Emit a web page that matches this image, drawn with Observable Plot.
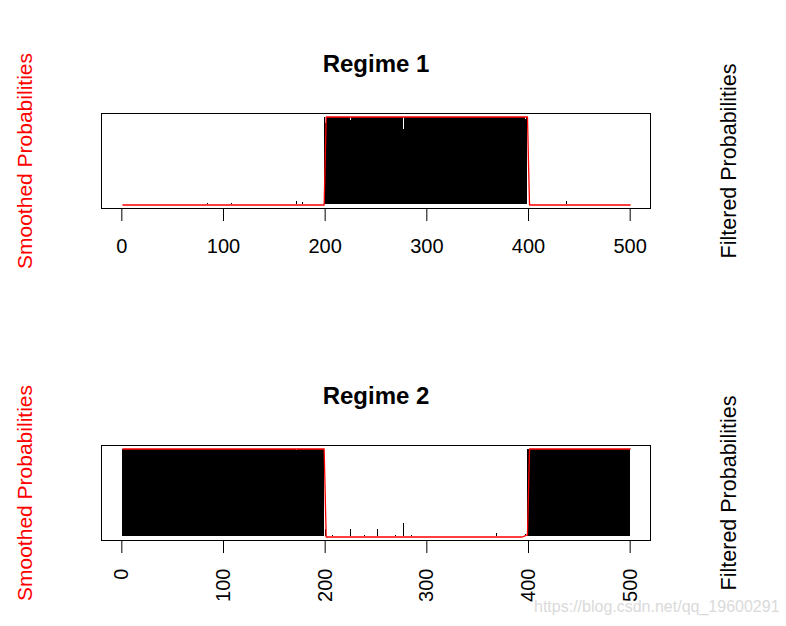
<!DOCTYPE html>
<html>
<head>
<meta charset="utf-8">
<script src="https://cdn.jsdelivr.net/npm/d3@7"></script>
<script src="https://cdn.jsdelivr.net/npm/@observablehq/plot@0.6"></script>
<style>
  html, body { margin: 0; padding: 0; background: #fff; }
  #wrap { position: relative; width: 786px; height: 626px; overflow: hidden; background: #fff; font-family: "Liberation Sans", Arial, sans-serif; }
  .panel { position: absolute; left: 0; }
  #wm { position: absolute; left: 534px; top: 598px; font-size: 16px; color: #dadada; white-space: nowrap; }
</style>
</head>
<body>
<div id="wrap">
  <div id="p1" class="panel" style="top:0px"></div>
  <div id="p2" class="panel" style="top:313px"></div>
  <div id="wm">https://blog.csdn.net/qq_19600291</div>
</div>
<script>
// ---- data ----
const nObs = 500;
const xTicks = [0, 100, 200, 300, 400, 500];
const titles = ["Regime 1", "Regime 2"];
const smoothedLabel = "Smoothed Probabilities";
const filteredLabel = "Filtered Probabilities";

// periods (inclusive) where each regime's filtered probability is ~1
const regime1Periods = [[200, 399]];
const regime2Periods = [[1, 199], [400, 500]];

// observations where the filtered probability deviates from 0 / 1
const filtered1Deviations = [[85, 0.02], [108, 0.02], [172, 0.04], [178, 0.025], [201, 0.93], [225, 0.96], [278, 0.86], [398, 0.97], [438, 0.04]];
const filtered2Deviations = [[172, 0.98], [201, 0.085], [208, 0.015], [225, 0.08], [239, 0.02], [252, 0.08], [270, 0.015], [278, 0.15], [285, 0.015], [332, 0.01], [357, 0.01], [369, 0.04], [395, 0.01], [398, 0.03]];

// smoothed probabilities (break points of the step-like path)
const smoothed1Points = [[1, 0], [199, 0], [200, 0.5], [201, 1], [399, 1], [400, 0.48], [401, 0], [500, 0]];
const smoothed2Points = [[1, 1], [199, 1], [200, 0.5], [201, 0], [394, 0], [396, 0.01], [398, 0.02], [399, 0.02], [400, 0.52], [401, 1], [500, 1]];

// ---- build tables ----
// one value per observation, then merged into runs of equal value (drawn as type="h" bars)
function filteredRuns(periods, deviations) {
  const dev = new Map(deviations);
  const runs = [];
  for (let t = 1; t <= nObs; ++t) {
    const active = periods.some(([a, b]) => t >= a && t <= b);
    const p = dev.has(t) ? dev.get(t) : (active ? 1 : 0);
    const last = runs[runs.length - 1];
    if (last && last.p === p && last.end === t - 1) last.end = t;
    else runs.push({start: t, end: t, p});
  }
  return runs.filter(r => r.p > 0);
}
const pts = arr => arr.map(([t, p]) => ({t, p}));

const font = "'Liberation Sans', Arial, sans-serif";

function panel({title, filtered, smoothed, marginTop, marginBottom, rotated}) {
  const axis = rotated
    ? Plot.axisX({ticks: xTicks, tickSize: 13, tickPadding: 15, tickRotate: -90, textAnchor: "end", lineAnchor: "middle", fontSize: 20, label: null, tickFormat: d => String(d)})
    : Plot.axisX({ticks: xTicks, tickSize: 13, tickPadding: 17, fontSize: 20, label: null, tickFormat: d => String(d)});
  return Plot.plot({
    width: 786,
    height: 313,
    marginLeft: 101,
    marginRight: 136,
    marginTop,
    marginBottom,
    style: {fontFamily: font, fontSize: "20px", background: "transparent", overflow: "visible", color: "#000"},
    x: {domain: [-20, 520], axis: null},
    y: {domain: [-0.04, 1.04], axis: null},
    marks: [
      Plot.rectY(filtered, {x1: d => d.start - 0.5, x2: d => d.end + 0.5, y1: 0, y2: "p", fill: "#000", inset: 0, shapeRendering: "crispEdges"}),
      Plot.line(smoothed, {x: "t", y: "p", stroke: "#ff0000", strokeWidth: 1.3}),
      Plot.frame({stroke: "#000", strokeWidth: 1}),
      axis,
      Plot.text([title], {frameAnchor: "top", dy: -42, lineAnchor: "bottom", fontSize: 24, fontWeight: "bold", fill: "#000"}),
      Plot.text([smoothedLabel], {frameAnchor: "left", dx: -76, rotate: -90, textAnchor: "middle", lineAnchor: "middle", fontSize: 21, fill: "#ff0000"}),
      Plot.text([filteredLabel], {frameAnchor: "right", dx: 79, rotate: -90, textAnchor: "middle", lineAnchor: "middle", fontSize: 21.5, fill: "#000"})
    ]
  });
}

document.getElementById("p1").appendChild(panel({
  title: titles[0],
  filtered: filteredRuns(regime1Periods, filtered1Deviations),
  smoothed: pts(smoothed1Points),
  marginTop: 113, marginBottom: 105, rotated: false
}));
document.getElementById("p2").appendChild(panel({
  title: titles[1],
  filtered: filteredRuns(regime2Periods, filtered2Deviations),
  smoothed: pts(smoothed2Points),
  marginTop: 132, marginBottom: 86, rotated: true
}));
</script>
</body>
</html>
